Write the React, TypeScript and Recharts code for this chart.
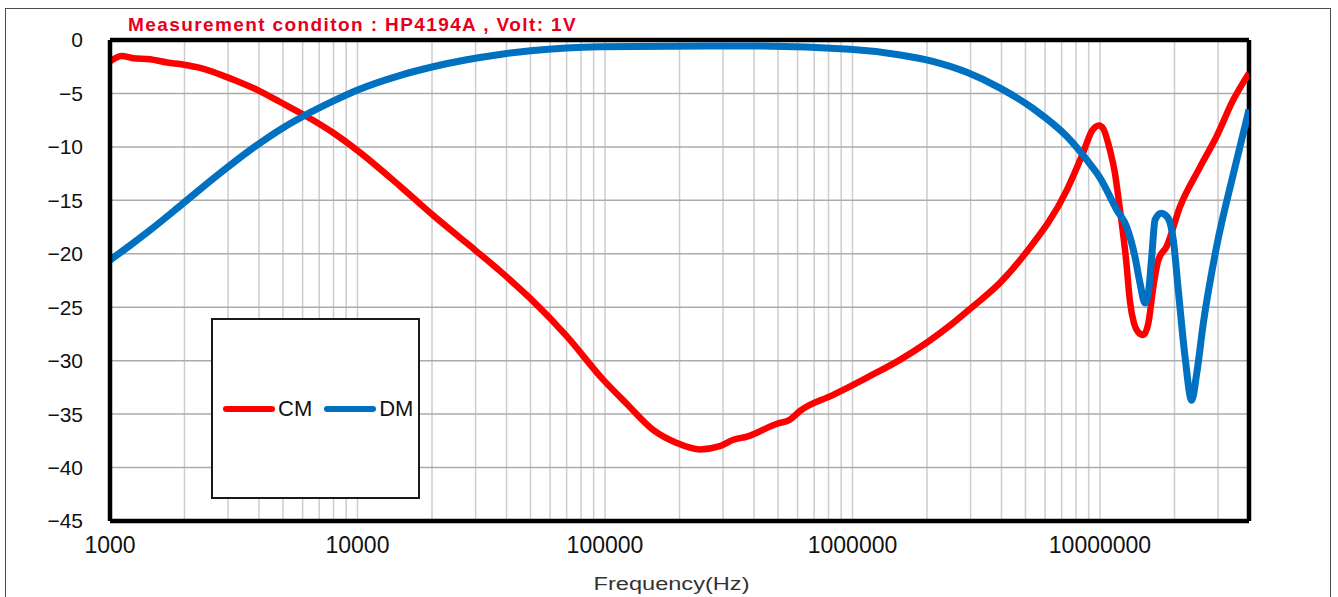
import { LineChart, Line, XAxis, YAxis, CartesianGrid, ReferenceLine, Legend } from "recharts"

// CM (common mode) attenuation
const CM_FREQ = [
  1000, 1115, 1240, 1450, 1700, 1970, 2310, 3140, 4040, 4870, 5960, 8000, 9950,
  14900, 20200, 27600, 37600, 50000, 70000, 98500, 122000, 157000, 195000, 242000,
  291000, 330000, 375000, 495000, 560000, 614000, 836000, 1140000, 1560000, 2000000,
  2480000, 3040000, 3950000, 4980000, 7360000, 8530000, 9280000, 9910000, 10310000,
  10970000, 11500000, 11860000, 12270000, 12740000, 13220000, 13720000, 14240000,
  14960000, 15680000, 16420000, 17200000, 18600000, 21050000, 25350000, 29610000,
  34560000, 40000000,
]
const CM_DB = [
  -2.0, -1.5, -1.7, -1.8, -2.1, -2.3, -2.6, -3.7, -4.8, -5.8, -6.9, -8.7, -10.3,
  -13.7, -16.4, -19.0, -21.6, -24.2, -27.7, -31.8, -34.0, -36.5, -37.7, -38.3,
  -38.0, -37.4, -37.1, -35.9, -35.5, -34.7, -33.2, -31.6, -29.9, -28.3,
  -26.7, -25.0, -22.7, -20.0, -14.0, -10.6, -8.5, -8.0, -8.3,
  -10.3, -12.5, -14.7, -17.3, -20.5, -24.5, -26.5, -27.3,
  -27.6, -26.5, -23.1, -20.6, -19.3, -15.6, -11.9, -9.0,
  -5.6, -3.1,
]

// DM (differential mode) attenuation
const DM_FREQ = [
  1000, 1240, 1450, 1970, 2700, 3680, 5010, 5960, 8000, 9950, 14900, 20200, 27600,
  37600, 50000, 95500, 328000, 977000, 1560000, 2110000, 2880000, 3950000, 5360000,
  7330000, 8830000, 10000000, 11700000, 12820000, 13850000, 14500000, 15200000,
  15680000, 16180000, 16700000, 17700000, 18880000, 19780000, 20720000, 22050000,
  23470000, 24590000, 26150000, 29600000, 34600000, 40000000,
]
const DM_DB = [
  -20.6, -19.0, -17.8, -15.3, -12.7, -10.3, -8.2, -7.2, -5.7, -4.7, -3.3, -2.5, -1.85,
  -1.35, -1.0, -0.62, -0.55, -0.87, -1.4, -2.0, -3.0, -4.5, -6.4,
  -9.0, -11.2, -12.9, -15.9, -17.5, -20.3, -22.7, -24.6,
  -23.7, -20.3, -16.8, -16.2, -16.7, -18.7, -23.4, -29.6,
  -33.7, -31.2, -26.5, -19.3, -12.5, -6.5,
]

const Y_TICKS = [0, -5, -10, -15, -20, -25, -30, -35, -40, -45]
const DECADES = [1000, 10000, 100000, 1000000, 10000000]
const GRID_STEPS = [1, 2, 3, 4, 5, 6, 7, 8, 9]
const X_MAX = 40000000

const cmData = CM_FREQ.map((f, i) => ({ f, v: CM_DB[i] }))
const dmData = DM_FREQ.map((f, i) => ({ f, v: DM_DB[i] }))
const xTicks = DECADES.flatMap(d => GRID_STEPS.map(s => d * s)).filter(t => t <= X_MAX)

const FONT = "'Liberation Sans', Arial, Helvetica, sans-serif"

function FreqLabel(props: any) {
  const vb = props.viewBox || { x: 110, y: 521, width: 1139, height: 76 }
  return (
    <text
      x={vb.x + vb.width / 2 - 8}
      y={vb.y + 69}
      textAnchor="middle"
      textLength={156}
      lengthAdjust="spacingAndGlyphs"
      style={{ fontFamily: FONT, fontSize: 18, fill: "#333" }}
    >
      Frequency(Hz)
    </text>
  )
}

function LegendBox({ payload }: any) {
  return (
    <div style={{
      boxSizing: "border-box",
      width: 209,
      height: 181,
      border: "2px solid #1a1a1a",
      background: "#fff",
      display: "flex",
      alignItems: "center",
      paddingLeft: 10,
      gap: 12,
    }}>
      {(payload || []).map((p: any) => (
        <div key={p.value} style={{ display: "flex", alignItems: "center", gap: 3 }}>
          <div style={{ width: 52, height: 6, borderRadius: 3, background: p.color }} />
          <span style={{ fontFamily: FONT, fontSize: 22, color: "#111" }}>{p.value}</span>
        </div>
      ))}
    </div>
  )
}

export default function App() {
  return (
    <div style={{ position: "absolute", left: 0, top: 0, width: 1338, height: 597, background: "#fff", overflow: "hidden" }}>
      {/* outer frame */}
      <div style={{ position: "absolute", left: 5, top: 8, width: 1326, height: 620, border: "1.5px solid #4a4a4a", boxSizing: "border-box" }} />

      <LineChart width={1338} height={597} margin={{ top: 40, right: 89, bottom: 0, left: 0 }}>
        <CartesianGrid horizontal={false} stroke="#cdcdcd" strokeWidth={1.5} />
        <CartesianGrid vertical={false} stroke="#ababab" strokeWidth={1.5} />
        <XAxis
          type="number"
          dataKey="f"
          scale="log"
          domain={[1000, X_MAX]}
          allowDataOverflow
          ticks={xTicks}
          interval={0}
          tickFormatter={(t: number) => (DECADES.includes(t) ? String(t) : "")}
          tick={{ fontFamily: FONT, fontSize: 23, fill: "#111" }}
          tickLine={false}
          tickSize={0}
          tickMargin={16}
          axisLine={{ stroke: "#000", strokeWidth: 4.5 }}
          height={76}
          label={<FreqLabel />}
        />
        <YAxis
          type="number"
          domain={[-45, 0]}
          ticks={Y_TICKS}
          interval={0}
          tickFormatter={(v: number) => (v === 0 ? "0" : "\u2212" + Math.abs(v))}
          tick={{ fontFamily: FONT, fontSize: 21, fill: "#111" }}
          tickLine={false}
          tickSize={0}
          tickMargin={27}
          axisLine={{ stroke: "#000", strokeWidth: 4.5 }}
          width={110}
        />
        <ReferenceLine y={0} stroke="#000" strokeWidth={4.5} />
        <ReferenceLine x={X_MAX} stroke="#000" strokeWidth={4.5} />
        <Legend
          layout="vertical"
          align="center"
          verticalAlign="middle"
          wrapperStyle={{ position: "absolute", left: 211, top: 318, width: 209, height: 181 }}
          content={<LegendBox />}
        />
        <Line
          data={cmData}
          dataKey="v"
          name="CM"
          type="monotone"
          stroke="#ff0000"
          strokeWidth={6.5}
          dot={false}
          activeDot={false}
          isAnimationActive={false}
        />
        <Line
          data={dmData}
          dataKey="v"
          name="DM"
          type="monotone"
          stroke="#0070c0"
          strokeWidth={7}
          dot={false}
          activeDot={false}
          isAnimationActive={false}
        />
      </LineChart>

      <div style={{
        position: "absolute",
        left: 128,
        top: 15,
        fontFamily: FONT,
        fontWeight: 700,
        fontSize: 19,
        lineHeight: "19px",
        letterSpacing: "1.4px",
        color: "#e6001e",
        whiteSpace: "nowrap",
      }}>
        Measurement conditon : HP4194A , Volt: 1V
      </div>
    </div>
  )
}
